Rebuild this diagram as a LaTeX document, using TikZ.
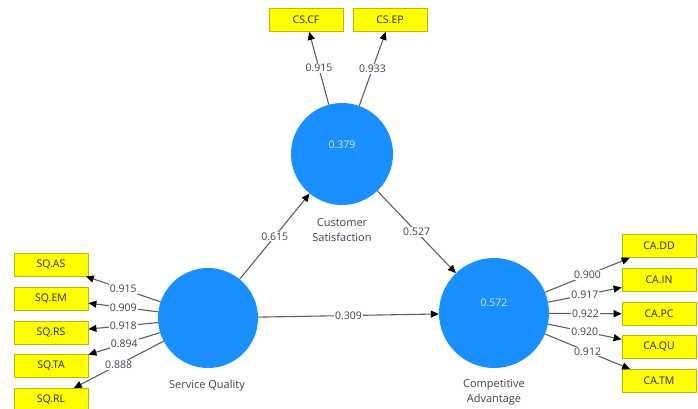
\documentclass[tikz,border=0pt]{standalone}
\usepackage{fontspec}
\setmainfont{Open Sans}
\usetikzlibrary{arrows.meta}
\definecolor{lvblue}{RGB}{26,143,255}
\definecolor{indyellow}{RGB}{255,255,0}
\definecolor{indborder}{RGB}{185,185,0}
\definecolor{edgegray}{RGB}{95,95,95}
\definecolor{lbltext}{RGB}{60,66,80}
\definecolor{valtext}{RGB}{215,230,255}
\tikzset{
  latent/.style={circle, fill=lvblue, draw=none, inner sep=0pt},
  indbox/.style={rectangle, fill=indyellow, draw=indborder, line width=0.8pt,
    minimum width=74pt, minimum height=23pt, inner sep=0pt,
    font=\fontsize{10.5}{12}\selectfont, text=black!85},
  lbl/.style={fill=white, inner sep=1pt, font=\fontsize{10.5}{12}\selectfont, text=lbltext},
  lvname/.style={font=\fontsize{11}{15}\selectfont, text=lbltext, align=center},
  valtxt/.style={font=\fontsize{10.5}{12}\selectfont, text=valtext},
  path/.style={draw=edgegray, line width=1.1pt,
    -{Triangle[length=8pt,width=7pt,color=black]}},
}
\begin{document}
\begin{tikzpicture}[x=1pt,y=-1pt]
\useasboundingbox (0,0) rectangle (698,409);

% latent variables
\node[latent, minimum size=102pt] (cs) at (342,154) {};
\node[latent, minimum size=100pt] (sq) at (208,318) {};
\node[latent, minimum size=110pt] (ca) at (494,313) {};

\node[valtxt] at ([yshift=9pt]cs.center) {0.379};
\node[valtxt] at ([yshift=10pt]ca.center) {0.572};

\node[lvname] (csname) at (342,230) {Customer\\Satisfaction};
\node[lvname] (sqname) at (207,386) {Service Quality};
\node[lvname] (caname) at (494,392) {Competitive\\Advantage};

% indicators of Customer Satisfaction
\node[indbox] (cscf) at (306,20) {CS.CF};
\node[indbox] (csep) at (390,20) {CS.EP};

% indicators of Service Quality
\node[indbox] (sqas) at (51,264.5) {SQ.AS};
\node[indbox] (sqem) at (51,298.5) {SQ.EM};
\node[indbox] (sqrs) at (51,332.5) {SQ.RS};
\node[indbox] (sqta) at (51,366) {SQ.TA};
\node[indbox] (sqrl) at (51,400) {SQ.RL};

% indicators of Competitive Advantage
\node[indbox] (cadd) at (659,246) {CA.DD};
\node[indbox] (cain) at (659,280) {CA.IN};
\node[indbox] (capc) at (659,314) {CA.PC};
\node[indbox] (caqu) at (659,347) {CA.QU};
\node[indbox] (catm) at (659,381) {CA.TM};

% outer loadings
\draw[path] (cs) -- node[lbl] {0.915} (cscf);
\draw[path] (cs) -- node[lbl] {0.933} (csep);

\draw[path] (sq) -- node[lbl] {0.915} (sqas);
\draw[path] (sq) -- node[lbl] {0.909} (sqem);
\draw[path] (sq) -- node[lbl] {0.918} (sqrs);
\draw[path] (sq) -- node[lbl] {0.894} (sqta);
\draw[path] (sq) -- node[lbl] {0.888} (sqrl);

\draw[path] (ca) -- node[lbl] {0.900} (cadd);
\draw[path] (ca) -- node[lbl] {0.917} (cain);
\draw[path] (ca) -- node[lbl] {0.922} (capc);
\draw[path] (ca) -- node[lbl] {0.920} (caqu);
\draw[path] (ca) -- node[lbl] {0.912} (catm);

% structural paths
\draw[path] (sq) -- node[lbl] {0.615} (cs);
\draw[path] (cs) -- node[lbl] {0.527} (ca);
\draw[path] (sq) -- node[lbl] {0.309} (ca);
\end{tikzpicture}
\end{document}
